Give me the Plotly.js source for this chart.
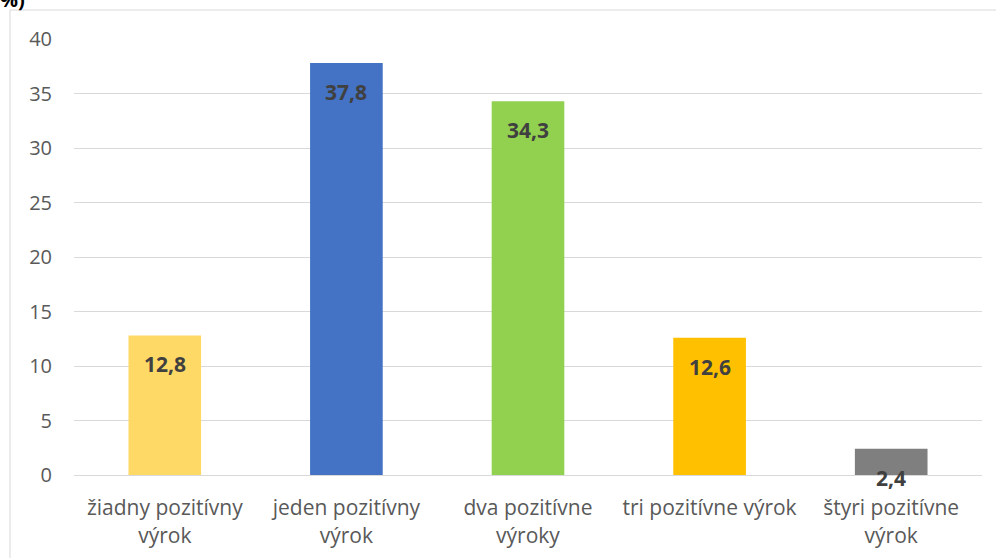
<!DOCTYPE html>
<html>
<head>
<meta charset="utf-8">
<script src="https://cdn.plot.ly/plotly-3.0.1.min.js"></script>
<style>html,body{margin:0;padding:0;background:#fff;}#chart{width:996px;height:558px;}</style>
</head>
<body>
<div id="chart"></div>
<script>
const categories = ["žiadny pozitívny<br>výrok", "jeden pozitívny<br>výrok", "dva pozitívne<br>výroky", "tri pozitívne výrok", "štyri pozitívne<br>výrok"];
const values = [12.8, 37.8, 34.3, 12.6, 2.4];
const labels = ["12,8", "37,8", "34,3", "12,6", "2,4"];
const colors = ["#FFD966", "#4472C4", "#92D050", "#FFC000", "#7F7F7F"];
const yTicks = [0, 5, 10, 15, 20, 25, 30, 35, 40];

const FONT = "'Open Sans', 'Noto Sans', sans-serif";

const trace = {
  type: "bar",
  x: categories,
  y: values,
  marker: {color: colors},
  hoverinfo: "none"
};

const annotations = categories.map((c, i) => ({
  x: c, y: values[i], xref: "x", yref: "y",
  text: "<b>" + labels[i] + "</b>",
  showarrow: false, yanchor: "middle", yshift: -29,
  font: {family: FONT, size: 21, color: "#404040"}
}));

const layout = {
  width: 996, height: 558,
  margin: {l: 74, r: 14, t: 39, b: 83},
  paper_bgcolor: "#ffffff", plot_bgcolor: "#ffffff",
  showlegend: false,
  bargap: 0.6,
  title: {text: "<b>%)</b>", x: 0, xref: "container", xanchor: "left", yref: "container", y: 1.0, yanchor: "middle",
          font: {family: FONT, size: 20, color: "#000000"}},
  xaxis: {
    type: "category",
    showgrid: false, showline: true, linecolor: "#d9d9d9", linewidth: 1,
    ticks: "outside", ticklen: 14, tickcolor: "rgba(0,0,0,0)",
    tickfont: {family: FONT, size: 21, color: "#595959"},
    fixedrange: true
  },
  yaxis: {
    range: [0, 40], tickvals: yTicks, ticktext: yTicks.map(String),
    showgrid: true, gridcolor: "#d9d9d9", gridwidth: 1,
    zeroline: true, zerolinecolor: "#d9d9d9", zerolinewidth: 1,
    showline: false,
    ticks: "outside", ticklen: 17, tickcolor: "rgba(0,0,0,0)",
    tickfont: {family: FONT, size: 20, color: "#595959"},
    fixedrange: true
  },
  annotations: annotations,
  shapes: [{
    type: "rect", xref: "paper", yref: "paper",
    x0: -0.0705, x1: 1.2, y0: -0.4, y1: 1.0665,
    line: {color: "#d9d9d9", width: 1}, fillcolor: "rgba(0,0,0,0)", layer: "below"
  }]
};

Plotly.newPlot("chart", [trace], layout, {staticPlot: true, displayModeBar: false});
</script>
</body>
</html>
